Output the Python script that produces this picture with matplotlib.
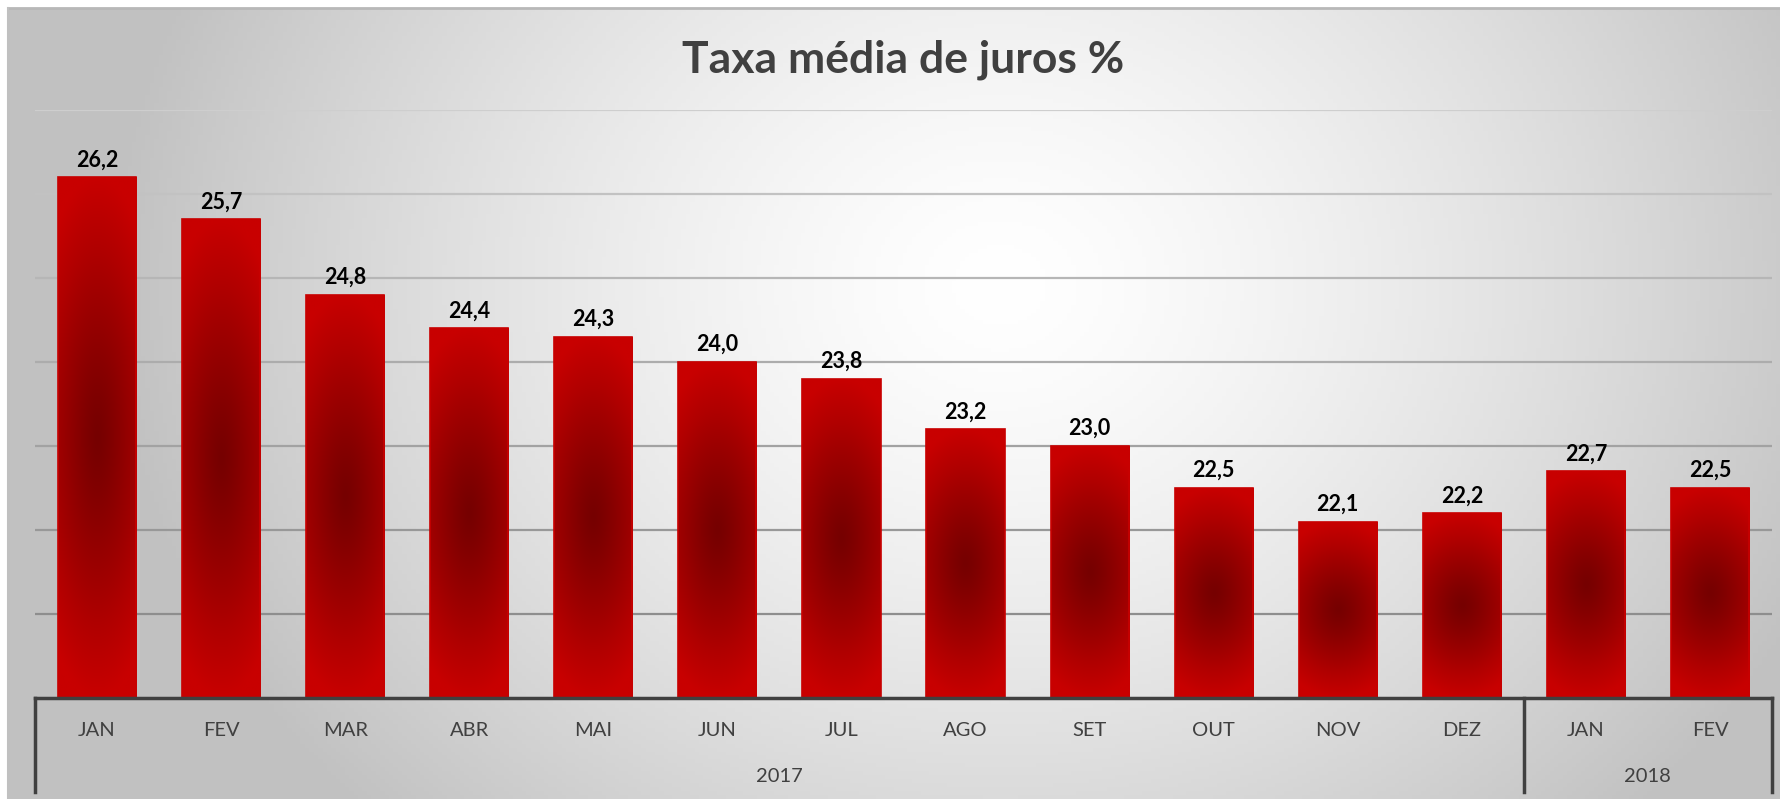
import numpy as np
import matplotlib
matplotlib.use("Agg")
import matplotlib.pyplot as plt
import matplotlib.transforms as mtransforms
from matplotlib.colors import LinearSegmentedColormap

plt.rcParams['font.family'] = ['Lato', 'DejaVu Sans']

months = ['JAN', 'FEV', 'MAR', 'ABR', 'MAI', 'JUN', 'JUL', 'AGO', 'SET', 'OUT', 'NOV', 'DEZ', 'JAN', 'FEV']
rates = [26.2, 25.7, 24.8, 24.4, 24.3, 24.0, 23.8, 23.2, 23.0, 22.5, 22.1, 22.2, 22.7, 22.5]
years = ['2017', '2018']
year_counts = [12, 2]
title = 'Taxa média de juros %'

W, H = 1780, 799
fig = plt.figure(figsize=(W / 100, H / 100), dpi=100)
fig.patch.set_facecolor('white')

# background panel with radial grey gradient
bg = fig.add_axes([8 / W, 0, (W - 8) / W, (H - 8) / H])
bg.set_axis_off()
u, v = np.meshgrid(np.linspace(0, 1, 400), np.linspace(0, 1, 200))
d = np.sqrt(((u - 0.56) / 0.5) ** 2 + ((v - 0.35) / 0.95) ** 2)
g = 1.0 - 0.24 * np.clip(d, 0, 1) ** 1.4
bg.imshow(np.dstack([g, g, g]), extent=[0, 1, 0, 1], aspect='auto', origin='upper')
bg.set_xlim(0, 1)
bg.set_ylim(0, 1)
bg.plot([0, 1], [1, 1], color='#b8b8b8', lw=2, transform=bg.transAxes, clip_on=False)
bg.plot([0, 0], [0, 1], color='#c0c0c0', lw=1.5, transform=bg.transAxes, clip_on=False)

ax = fig.add_axes([35 / W, 101 / H, 1737 / W, 588 / H])
ax.patch.set_alpha(0)
x = np.arange(len(months))
for s in ax.spines.values():
    s.set_visible(False)
ax.set_xticks([])
ax.set_yticks([])

grid_cols = ['#8e8e8e', '#989898', '#a2a2a2', '#acacac', '#b6b6b6', '#c2c2c2', '#cecece']
for lvl, c in zip(range(21, 28), grid_cols):
    ax.axhline(lvl, color=c, lw=1.6, zorder=1)

bars = ax.bar(x, rates, width=0.63, bottom=0, color='none', edgecolor='#c80000', lw=1.2, zorder=3)

cmap = LinearSegmentedColormap.from_list('bar', ['#760000', '#940000', '#b00000', '#c80000'])
yy, xx = np.mgrid[-1:1:200j, -1:1:60j]
dist = np.clip(np.sqrt(0.3 * xx ** 2 + yy ** 2), 0, 1) ** 1.25
for b, val in zip(bars, rates):
    x0 = b.get_x()
    im = ax.imshow(dist, cmap=cmap, vmin=0, vmax=1, aspect='auto',
                   extent=[x0, x0 + b.get_width(), 20, val], zorder=2, interpolation='bilinear')
    im.set_clip_path(b)
    ax.annotate(f'{val:.1f}'.replace('.', ','), (b.get_x() + b.get_width() / 2, val),
                xytext=(0, 5), textcoords='offset points', ha='center', va='bottom',
                fontsize=15.5, fontweight='bold', color='black', zorder=4)
ax.set_xlim(-0.5, len(months) - 0.5)
ax.set_ylim(20, 27)

# category axis
trans = mtransforms.blended_transform_factory(ax.transData, ax.transAxes)
axis_col = '#404040'
ax.plot([-0.5, len(months) - 0.5], [0, 0], color=axis_col, lw=2.5, transform=trans, clip_on=False, zorder=5)
lower = -94 / 588
edges = np.concatenate([[0], np.cumsum(year_counts)]) - 0.5
for e in edges:
    ax.plot([e, e], [0, lower], color=axis_col, lw=2.5, transform=trans, clip_on=False, zorder=5)
for xi, m in zip(x, months):
    ax.text(xi, -32 / 588, m, transform=trans, ha='center', va='center', fontsize=14.5, color='#404040')
for i, yr in enumerate(years):
    ax.text((edges[i] + edges[i + 1]) / 2, -79 / 588, yr, transform=trans, ha='center', va='center',
            fontsize=14.5, color='#404040')

fig.text(903 / W, 1 - 60 / H, title, ha='center', va='center', fontsize=32, fontweight='bold', color='#404040')

fig.savefig('out.png', dpi=100)
